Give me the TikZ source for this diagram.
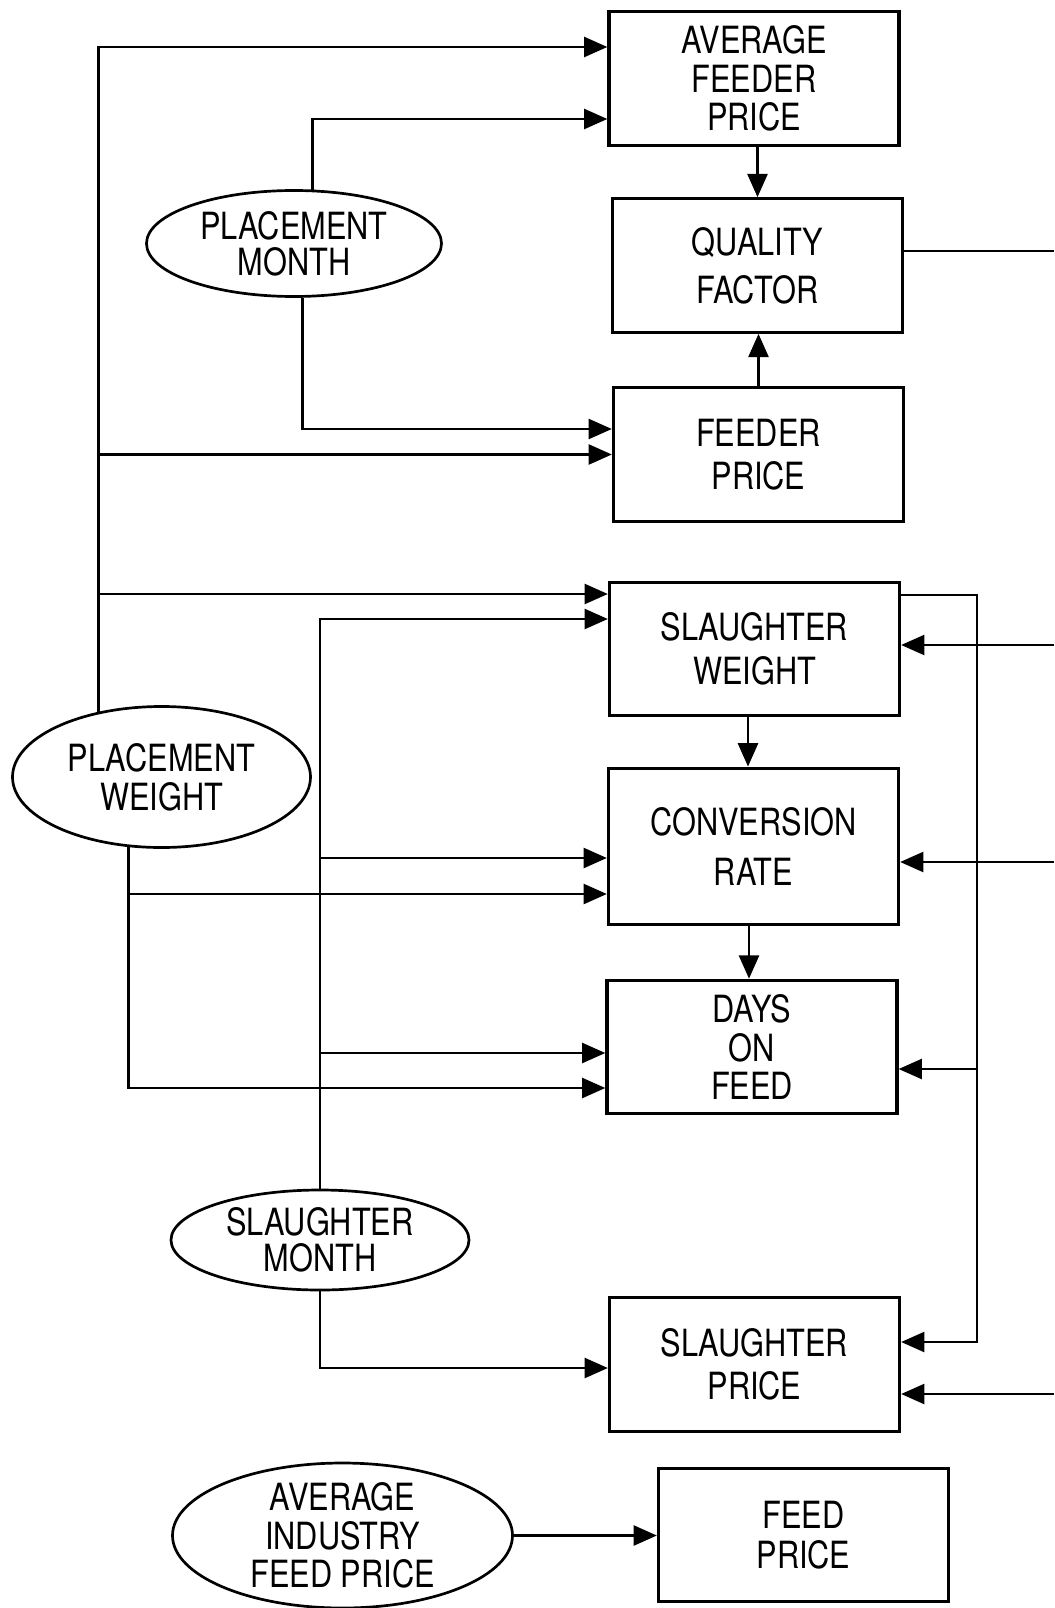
\documentclass[tikz,border=0pt]{standalone}
\usepackage{fontspec}
\usetikzlibrary{arrows.meta,shapes.geometric}
\newfontfamily\lblfont{TeX Gyre Heros}[FakeStretch=0.82]

\begin{document}
\begin{tikzpicture}[
x=0.3mm, y=-0.3mm,
line width=2.3pt,
>={Triangle[length=7mm,width=6mm]},
every node/.style={
    font=\lblfont\fontsize{32}{33}\selectfont,
    align=center,
    inner sep=0pt
},
box/.style={
    rectangle,
    draw,
    line width=2.8pt,
    minimum width=87mm,
    minimum height=40mm
},
oval/.style={
    ellipse,
    draw,
    inner ysep=-8mm
}
]
\useasboundingbox (0,0) rectangle (1054,1608);

%---------------- Boxes ----------------
\node[box] (afp) at (754,78.5) {AVERAGE\\FEEDER\\PRICE};
\node[box] (qf) at (757.5,265.5) {QUALITY\\[8pt]FACTOR};
\node[box] (fp) at (758.5,454.5) {FEEDER\\[4pt]PRICE};
\node[box] (sw) at (754.5,649) {SLAUGHTER\\[5pt]WEIGHT};
\node[box,minimum height=47mm] (cr) at (753.5,846.5) {CONVERSION\\[10pt]RATE};
\node[box] (dof) at (752,1047) {DAYS\\ON\\FEED};
\node[box] (sp) at (754.5,1364.5) {SLAUGHTER\\[4pt]PRICE};
\node[box] (feed) at (803.5,1535) {FEED\\[1pt]PRICE};

%---------------- Ovals ----------------
\node[oval,minimum width=88.5mm,minimum height=31.8mm] (pm) at (294,243.5) {PLACEMENT\\[-2pt]MONTH};
\node[oval,minimum width=89.4mm,minimum height=42.3mm] (pw) at (161.5,777) {PLACEMENT\\WEIGHT};
\node[oval,minimum width=89.4mm,minimum height=30mm] (sm) at (320,1240) {SLAUGHTER\\[-2pt]MONTH};
\node[oval,minimum width=102mm,minimum height=43.5mm] (aifp) at (342.5,1535.5) {AVERAGE\\INDUSTRY\\FEED PRICE};

%---------------- Placement weight ----------------
\draw[->] (pw.134) |- (afp.west |- 0,47);
\draw[->] (pw.134 |- fp.west) -- (fp.west);
\draw[->] (pw.134 |- 0,594) -- (sw.west |- 0,594);
\draw[->] (pw.245) |- (dof.west |- 0,1088);
\draw[->] (pw.245 |- 0,894) -- (cr.west |- 0,894);

%---------------- Placement month ----------------
\draw[->] (pm.71) |- (afp.west |- 0,119);
\draw[->] (pm.-81) |- (fp.west |- 0,429);

%---------------- Slaughter month ----------------
\draw[->] (sm.north) |- (sw.west |- 0,619);
\draw[->] (sm.north |- 0,858) -- (cr.west |- 0,858);
\draw[->] (sm.north |- 0,1053) -- (dof.west |- 0,1053);
\draw[->] (sm.south) |- (sp.west |- 0,1368);

%---------------- Chain ----------------
\draw[->] (afp.south -| qf.north) -- (qf.north);
\draw[->] (fp.north) -- (fp.north |- qf.south);
\draw[->] (sw.south -| 748,0) -- (cr.north -| 748,0);
\draw[->] (cr.south -| 749,0) -- (dof.north -| 749,0);
\draw[->] (aifp.east) -- (aifp.east -| feed.west);

%---------------- Right side ----------------
\coordinate (qfout) at (1054,251);
\coordinate (swin) at (1054,645);
\coordinate (crin) at (1054,862);
\coordinate (spin) at (1054,1394);
\coordinate (loop) at (977,595);

\draw (qf.east |- qfout) -- (qfout);
\draw[->] (swin) -- (swin -| sw.east);
\draw[->] (crin) -- (crin -| cr.east);
\draw[->] (spin) -- (spin -| sp.east);
\draw[->] (sw.east |- loop) -- (loop) |- (sp.east |- 0,1342);
\draw[->] (loop |- 0,1069) -- (dof.east |- 0,1069);

\end{tikzpicture}
\end{document}
